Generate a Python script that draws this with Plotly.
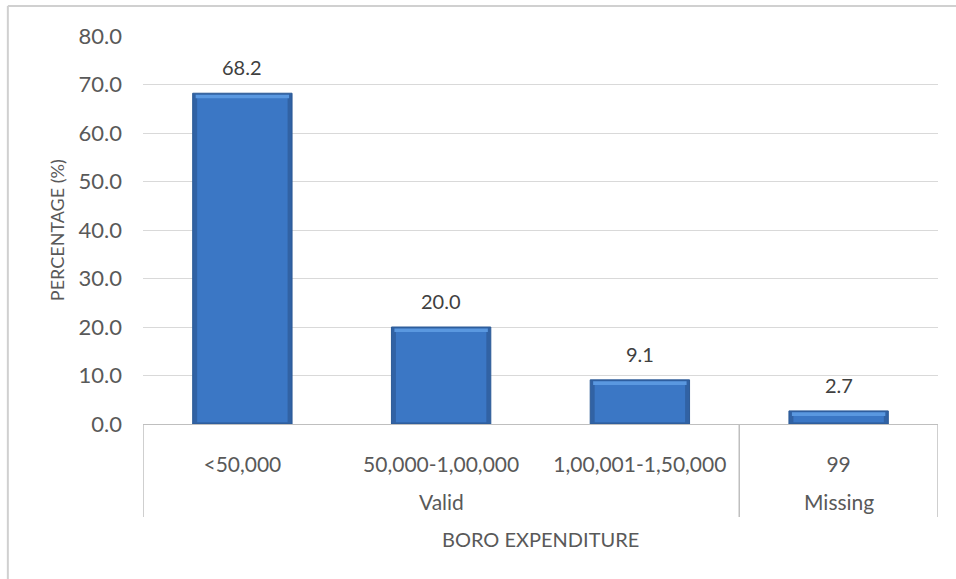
import plotly.graph_objects as go

# Boro expenditure distribution
categories = ["<50,000", "50,000-1,00,000", "1,00,001-1,50,000", "99"]
groups = ["Valid", "Valid", "Valid", "Missing"]
percentages = [68.2, 20.0, 9.1, 2.7]
y_ticks = [0, 10, 20, 30, 40, 50, 60, 70, 80]

FONT = "Lato"
TEXT = "#595959"
GRID = "#d9d9d9"
AXIS = "#bfbfbf"

xs = list(range(len(categories)))
fig = go.Figure()

# darker outer shell of each bar
fig.add_trace(go.Bar(
    x=xs, y=percentages, width=0.5,
    marker=dict(color="#3162a4", line=dict(color="#2c5a96", width=1)),
    hoverinfo="skip",
))
# main face, slightly inset
fig.add_trace(go.Bar(
    x=xs, y=[max(v - 0.9, 0) for v in percentages],
    base=[0.35] * len(percentages), width=0.455,
    marker=dict(color="#3b77c5", line=dict(width=0)),
    hoverinfo="skip",
))
# light bevel along the top edge
fig.add_trace(go.Bar(
    x=xs, y=[0.75] * len(percentages),
    base=[v - 1.05 for v in percentages], width=0.47,
    marker=dict(color="#5a98e0", line=dict(width=0)),
    hoverinfo="skip",
))

fig.update_layout(
    width=956, height=579,
    margin=dict(l=143, r=18, t=36, b=155),
    paper_bgcolor="white", plot_bgcolor="white",
    showlegend=False,
    barmode="overlay",
    font=dict(family=FONT, color=TEXT),
)

# value labels above the bars
for x, v in zip(xs, percentages):
    fig.add_annotation(
        x=x, y=v, xref="x", yref="y", text=f"{v:.1f}",
        showarrow=False, xanchor="center", yanchor="bottom", yshift=12,
        font=dict(family=FONT, size=20, color="#404040"),
    )

fig.update_xaxes(
    tickmode="array", tickvals=xs, ticktext=categories,
    range=[-0.5, len(categories) - 0.5],
    showgrid=False, zeroline=False,
    showline=True, linecolor=AXIS, linewidth=1,
    ticks="", ticklabelstandoff=22,
    tickfont=dict(family=FONT, size=21, color=TEXT),
)

fig.update_yaxes(
    range=[0, 80],
    tickmode="array", tickvals=y_ticks,
    ticktext=[f"{t:.1f}" for t in y_ticks],
    showgrid=True, gridcolor=GRID, gridwidth=1,
    zeroline=False, showline=False,
    ticks="", ticklabelstandoff=20,
    tickfont=dict(family=FONT, size=22, color=TEXT),
)

# group labels and dividers beneath the category labels
group_names = []
for g in groups:
    if g not in group_names:
        group_names.append(g)
for g in group_names:
    idx = [i for i, gg in enumerate(groups) if gg == g]
    fig.add_annotation(
        x=sum(idx) / len(idx), y=-0.201, xref="x", yref="paper",
        text=g, showarrow=False, xanchor="center", yanchor="middle",
        font=dict(family=FONT, size=21, color=TEXT),
    )

bounds = [-0.5]
for i in range(1, len(groups)):
    if groups[i] != groups[i - 1]:
        bounds.append(i - 0.5)
bounds.append(len(groups) - 0.5)
for b in bounds:
    fig.add_shape(type="line", xref="x", yref="paper",
                  x0=b, x1=b, y0=0, y1=-0.24,
                  line=dict(color=AXIS, width=1.5))

# axis titles
fig.add_annotation(
    x=0.5, y=-0.296, xref="paper", yref="paper",
    text="BORO EXPENDITURE", showarrow=False,
    xanchor="center", yanchor="middle",
    font=dict(family=FONT, size=20, color=TEXT),
)
fig.add_annotation(
    x=-0.108, y=0.5, xref="paper", yref="paper",
    text="PERCENTAGE (%)", showarrow=False, textangle=-90,
    xanchor="center", yanchor="middle",
    font=dict(family=FONT, size=18, color=TEXT),
)

# chart frame
fig.add_shape(type="line", xref="paper", yref="paper",
              x0=-0.17, x1=1.03, y0=1.077, y1=1.077,
              line=dict(color="#d0d0d0", width=2))
fig.add_shape(type="line", xref="paper", yref="paper",
              x0=-0.17, x1=-0.17, y0=1.077, y1=-0.4,
              line=dict(color="#d0d0d0", width=2))

fig.write_html("out.html")
